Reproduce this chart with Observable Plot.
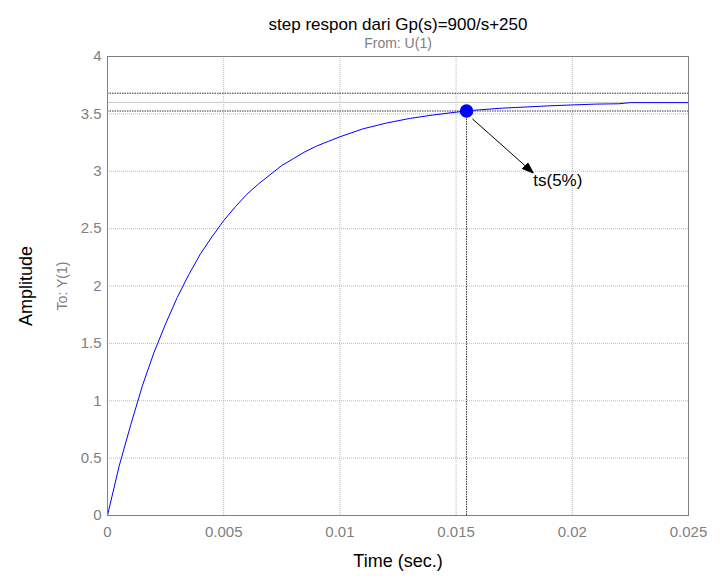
<!DOCTYPE html>
<html>
<head>
<meta charset="utf-8">
<script src="https://cdn.jsdelivr.net/npm/d3@7"></script>
<script src="https://cdn.jsdelivr.net/npm/@observablehq/plot@0.6"></script>
<style>
  html, body { margin: 0; padding: 0; background: #ffffff; }
  #chart { width: 723px; height: 576px; }
</style>
</head>
<body>
<div id="chart"></div>
<script>
// ---- data ----
const timeValues = [0, 0.0005, 0.001, 0.0015, 0.002, 0.0025, 0.003, 0.0035, 0.004, 0.0045,
  0.005, 0.0055, 0.006, 0.0065, 0.007, 0.0075, 0.008, 0.0085, 0.009, 0.0095,
  0.010, 0.011, 0.012, 0.013, 0.014, 0.015, 0.01545, 0.016, 0.017, 0.018, 0.019,
  0.020, 0.021, 0.022, 0.0225, 0.023, 0.024, 0.025];
const amplitudeValues = [0, 0.43, 0.79, 1.13, 1.42, 1.67, 1.90, 2.10, 2.28, 2.43,
  2.57, 2.69, 2.80, 2.89, 2.97, 3.05, 3.11, 3.17, 3.22, 3.26,
  3.30, 3.37, 3.42, 3.46, 3.49, 3.515, 3.525, 3.535, 3.55, 3.56, 3.57,
  3.578, 3.585, 3.588, 3.598, 3.598, 3.598, 3.598];
const xTickValues = [0, 0.005, 0.01, 0.015, 0.02, 0.025];
const yTickValues = [0, 0.5, 1, 1.5, 2, 2.5, 3, 3.5, 4];
const steadyState = [3.6];
const settlingBand = [3.525, 3.68];
const settlingTime = 0.01545;
const settlingAmp = 3.525;
const arrowFrom = {x: 0.0157, y: 3.457};
const arrowTo = {x: 0.01832, y: 2.985};
const annotationLabel = "ts(5%)";
const titleText = "step respon dari Gp(s)=900/s+250";
const fromText = "From: U(1)";
const toText = "To: Y(1)";
const xLabelText = "Time (sec.)";
const yLabelText = "Amplitude";

const curve = timeValues.map((t, i) => ({t, a: amplitudeValues[i]}));

const filledHead = (color, context) => {
  const m = d3.create("svg:marker")
    .attr("viewBox", "-11 -4.5 11 9")
    .attr("markerWidth", 11)
    .attr("markerHeight", 9)
    .attr("markerUnits", "userSpaceOnUse")
    .attr("refX", 0).attr("refY", 0)
    .attr("orient", "auto")
    .attr("fill", "#000");
  m.append("path").attr("d", "M-11,-4L0,0L-11,4Z");
  return m.node();
};

const font = "Liberation Sans, Arial, Helvetica, sans-serif";
const gray = "#808080";
const fmt = d => String(d);

const chart = Plot.plot({
  width: 723,
  height: 576,
  marginLeft: 107,
  marginRight: 35,
  marginTop: 56,
  marginBottom: 61,
  style: {fontFamily: font, background: "#ffffff", overflow: "visible"},
  x: {domain: [0, 0.025], ticks: xTickValues},
  y: {domain: [0, 4], ticks: yTickValues},
  marks: [
    Plot.ruleX(xTickValues, {stroke: "#b8b8b8", strokeWidth: 1, strokeDasharray: "1,1"}),
    Plot.ruleY(yTickValues, {stroke: "#b8b8b8", strokeWidth: 1, strokeDasharray: "1,1"}),
    Plot.ruleY(steadyState, {stroke: "#c8c8c8", strokeWidth: 1}),
    Plot.ruleY(settlingBand, {stroke: "#303030", strokeWidth: 1, strokeDasharray: "1.5,1"}),
    Plot.ruleX([settlingTime], {y1: 0, y2: settlingAmp, stroke: "#303030", strokeWidth: 1, strokeDasharray: "1.5,1"}),
    Plot.line(curve, {x: "t", y: "a", stroke: "#0000ff", strokeWidth: 1}),
    Plot.frame({stroke: gray, strokeWidth: 1}),
    Plot.dot([{t: settlingTime, a: settlingAmp}], {x: "t", y: "a", r: 6, fill: "#0000ff", stroke: "#0000ff"}),
    Plot.link([{x1: arrowFrom.x, y1: arrowFrom.y, x2: arrowTo.x, y2: arrowTo.y}],
      {x1: "x1", y1: "y1", x2: "x2", y2: "y2", stroke: "#000", strokeWidth: 1, markerEnd: filledHead}),
    Plot.text([annotationLabel], {x: arrowTo.x, y: arrowTo.y, text: d => d, textAnchor: "start",
      dx: 0, dy: 8, fontSize: 17, fill: "#000", lineAnchor: "middle"}),
    Plot.axisX({ticks: xTickValues, tickSize: 0, tickPadding: 11, fontSize: 15, color: gray,
      tickFormat: fmt, label: null}),
    Plot.axisY({ticks: yTickValues, tickSize: 0, tickPadding: 6, fontSize: 15, color: gray,
      tickFormat: fmt, label: null}),
    Plot.text([titleText], {frameAnchor: "top", dy: -39, fontSize: 17, fill: "#000"}),
    Plot.text([fromText], {frameAnchor: "top", dy: -18, fontSize: 14, fill: gray}),
    Plot.text([xLabelText], {frameAnchor: "bottom", dy: 51, fontSize: 18, fill: "#000"}),
    Plot.text([yLabelText], {frameAnchor: "left", textAnchor: "middle", dx: -81, rotate: -90, fontSize: 18, fill: "#000"}),
    Plot.text([toText], {frameAnchor: "left", textAnchor: "middle", dx: -45, rotate: -90, fontSize: 14, fill: gray})
  ]
});
document.getElementById("chart").appendChild(chart);
</script>
</body>
</html>
